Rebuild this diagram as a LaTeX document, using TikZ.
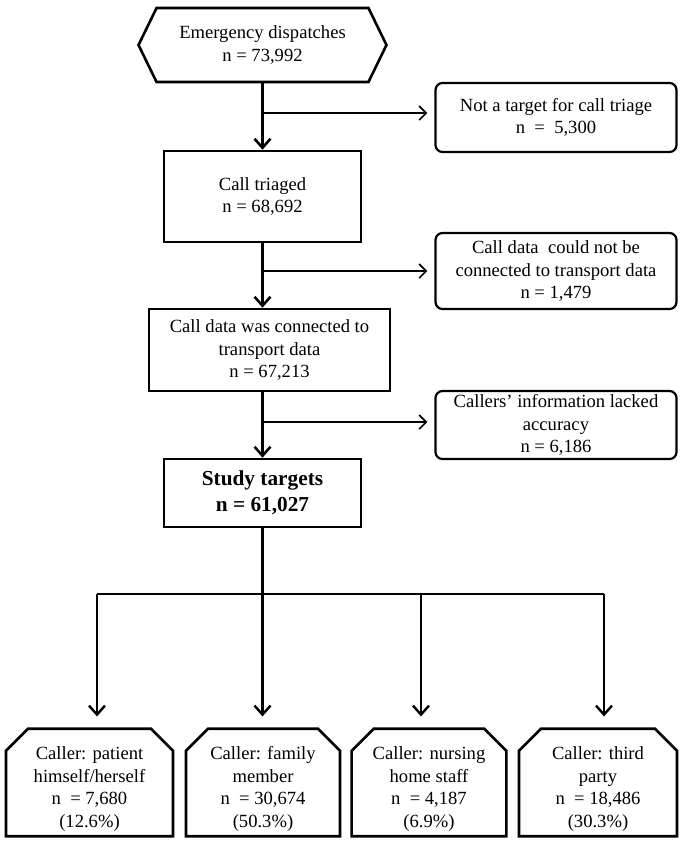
\documentclass[tikz,border=0pt]{standalone}
\usepackage{fontspec}
\setmainfont{Liberation Serif}
\usetikzlibrary{arrows.meta,shapes.symbols,shapes.misc}

\newcommand{\cstrut}{\rule{0pt}{26pt}}
\tikzset{
  mainbox/.style={draw, line width=2.6pt, minimum width=197pt, align=center, inner sep=2pt},
  sidebox/.style={draw, line width=2.2pt, rounded corners=7pt, minimum width=241pt, align=center, inner sep=2pt},
  callerbox/.style={draw, line width=2.6pt, chamfered rectangle, chamfered rectangle corners={north west,north east},
    chamfered rectangle xsep=19pt, minimum height=107pt, align=center, inner sep=2pt},
  spine/.style={line width=2.6pt, -{Straight Barb[length=9pt,width=16pt,line width=2.6pt]}},
  branch/.style={line width=1.7pt, shorten >=7pt, -{Straight Barb[length=7pt,width=14pt,line width=1.7pt]}},
  drop/.style={line width=2.4pt, shorten >=11pt, -{Straight Barb[length=9pt,width=16pt,line width=2.4pt]}},
}

\begin{document}
\begin{tikzpicture}[x=1pt, y=-1pt, font=\fontsize{18.6}{22.5}\selectfont]
    \useasboundingbox (0,0) rectangle (685,844);
        % Main chain
        \node[draw, line width=2.6pt, signal, signal to=west and east, signal pointer angle=128,
              minimum width=248pt, minimum height=74pt, align=center, inner sep=2pt] (dispatches) at (262.5,45) {Emergency dispatches\\n = 73,992};
        \node[mainbox, minimum height=91pt] (triaged) at (262.5,196.5) {Call triaged\\n = 68,692};
        \node[mainbox, minimum width=241pt, minimum height=82pt] (linked) at (269.5,350) {Call data was connected to\\transport data\\n = 67,213};
        \node[mainbox, minimum height=68pt, font=\fontsize{21.3}{25.7}\selectfont\bfseries] (targets) at (262.5,493) {Study targets\\n = 61,027};
        % Excluded calls
        \node[sidebox, minimum height=69pt] (nottarget) at (556,117.5) {Not a target for call triage\\n \ = \ 5,300};
        \node[sidebox, minimum height=76pt] (notlinked) at (556,271) {Call data \ could not be\\connected to transport data\\n = 1,479};
        \node[sidebox, minimum height=68pt] (inaccurate) at (556,425) {Callers’ information lacked\\accuracy\\n = 6,186};
        % Callers
        \node[callerbox, minimum width=167pt] (patient) at (89.5,782.5) {\cstrut Caller: patient\\himself/herself\\n \ = 7,680\\(12.6\%)};
        \node[callerbox, minimum width=154pt] (family) at (263,782.5) {\cstrut Caller: family\\member\\n \ = 30,674\\(50.3\%)};
        \node[callerbox, minimum width=154pt] (nursing) at (429,782.5) {\cstrut Caller: nursing\\home staff\\n \ = 4,187\\(6.9\%)};
        \node[callerbox, minimum width=158pt] (thirdparty) at (598,782.5) {\cstrut Caller: third\\party\\n \ = 18,486\\(30.3\%)};
        % Vertical arrows
        \draw[spine] (dispatches.south) -- (triaged.north);
        \draw[spine] (triaged.south) -- (triaged.south |- linked.north);
        \draw[spine] (triaged.south |- linked.south) -- (targets.north);
        % Side arrows
        \coordinate (fork1) at (262.5,113);
        \coordinate (fork2) at (262.5,271);
        \coordinate (fork3) at (262.5,422);
        \draw[branch] (fork1) -- (fork1 -| nottarget.west);
        \draw[branch] (fork2) -- (fork2 -| notlinked.west);
        \draw[branch] (fork3) -- (fork3 -| inaccurate.west);
        % Split into callers
        \coordinate (bus) at (262.5,594);
        \coordinate (bus1) at (97,594);
        \coordinate (bus2) at (262.5,594);
        \coordinate (bus3) at (421,594);
        \coordinate (bus4) at (604,594);
        \draw[line width=2.4pt] (targets.south) -- (bus);
        \draw[line width=2pt] (bus1) -- (bus4);
        \draw[drop] (bus1) -- (bus1 |- patient.north);
        \draw[drop] (bus2) -- (bus2 |- family.north);
        \draw[drop] (bus3) -- (bus3 |- nursing.north);
        \draw[drop] (bus4) -- (bus4 |- thirdparty.north);
    \end{tikzpicture}
\end{document}
